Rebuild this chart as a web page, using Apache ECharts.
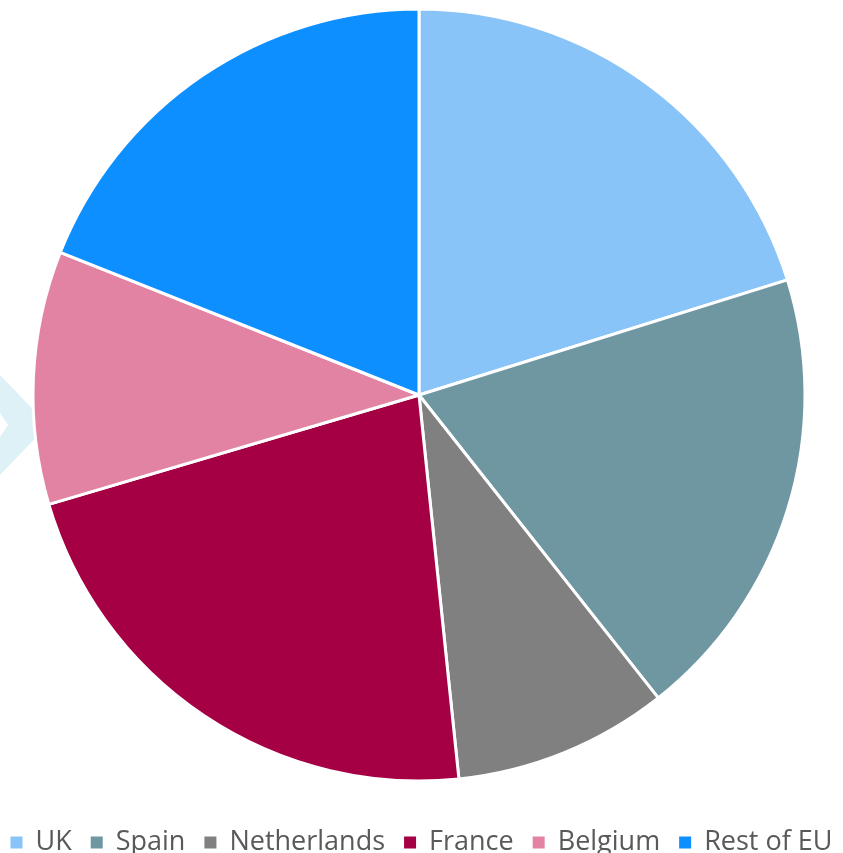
<!DOCTYPE html>
<html>
<head>
<meta charset="utf-8">
<script src="https://cdn.jsdelivr.net/npm/echarts@6/dist/echarts.min.js"></script>
<style>
  html, body { margin: 0; padding: 0; background: #fff; }
  #main { width: 843px; height: 853px; }
</style>
</head>
<body>
<div id="main"></div>
<script>
// slice names and shares (%), clockwise from 12 o'clock
const countries = ["UK", "Spain", "Netherlands", "France", "Belgium", "Rest of EU"];
const shares = [20.2, 19.2, 9.0, 22.1, 10.6, 19.0];
const colors = ["#89C4F8", "#6F97A2", "#808080", "#A50044", "#E283A4", "#0D8FFF"];

var myChart = echarts.init(document.getElementById("main"));

var option = {
  animation: false,
  color: colors,
  graphic: [
    {
      // faint chevron peeking out behind the pie on the left
      type: "polygon",
      z: -1,
      shape: {
        points: [[0, 375], [48, 425], [0, 475], [0, 437], [8, 425], [0, 413]],
      },
      style: { fill: "#DDF1F6" },
    },
  ],
  legend: {
    show: true,
    top: 824,
    left: "center",
    icon: "rect",
    itemWidth: 12,
    itemHeight: 12,
    itemGap: 19,
    itemStyle: { borderWidth: 0 },
    textStyle: {
      fontFamily: "Open Sans",
      fontSize: 27,
      color: "#595959",
      padding: [0, 0, 0, 8],
    },
    data: countries,
  },
  series: [
    {
      type: "pie",
      center: [419, 395],
      radius: 386,
      startAngle: 90,
      clockwise: true,
      label: { show: false },
      labelLine: { show: false },
      emphasis: { disabled: true },
      itemStyle: {
        borderColor: "#fff",
        borderWidth: 3,
      },
      data: countries.map((name, i) => ({ name: name, value: shares[i] })),
    },
  ],
};

option && myChart.setOption(option);
</script>
</body>
</html>
